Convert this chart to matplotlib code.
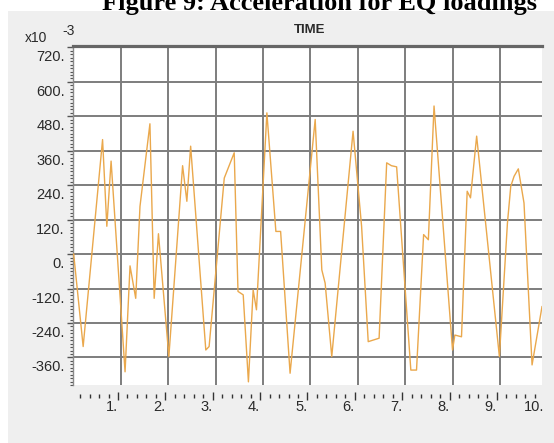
import matplotlib
matplotlib.use('Agg')
import matplotlib.pyplot as plt
from matplotlib.ticker import MultipleLocator
from matplotlib.patches import Rectangle
from matplotlib.transforms import ScaledTranslation

# ---- data ----
time = [0.00, 0.20, 0.61, 0.70, 0.79, 1.085, 1.19, 1.31, 1.40, 1.61, 1.70, 1.79,
        2.01, 2.30, 2.39, 2.47, 2.79, 2.86, 3.18, 3.39, 3.47, 3.58, 3.69, 3.79,
        3.86, 4.08, 4.27, 4.37, 4.57, 5.10, 5.24, 5.31, 5.45, 5.90, 6.08, 6.22,
        6.45, 6.61, 6.71, 6.82, 7.12, 7.24, 7.39, 7.49, 7.61, 8.00, 8.05, 8.19,
        8.31, 8.38, 8.51, 8.99, 9.16, 9.23, 9.30, 9.39, 9.51, 9.68, 9.89]
accel = [0, -322, 399, 97, 324, -410, -41, -154, 166, 454, -154, 71,
         -357, 308, 184, 376, -334, -322, 265, 353, -130, -142, -445, -125,
         -194, 492, 79, 79, -415, 469, -55, -101, -357, 428, 97, -305,
         -293, 318, 308, 304, -404, -404, 68, 50, 516, -334, -282, -288,
         219, 196, 411, -357, 108, 236, 271, 297, 178, -386, -183]

y_ticks = [720, 600, 480, 360, 240, 120, 0, -120, -240, -360]
y_labels = ['720.', '600.', '480.', '360.', '240.', '120.', '0.', '-120.', '-240.', '-360.']
x_grid = [1, 2, 3, 4, 5, 6, 7, 8, 9]
x_ticks = [1, 2, 3, 4, 5, 6, 7, 8, 9, 10]
x_labels = ['1.', '2.', '3.', '4.', '5.', '6.', '7.', '8.', '9.', '10.']

plt.rcParams['font.family'] = ['Liberation Sans', 'DejaVu Sans']

W, H = 554, 443
fig = plt.figure(figsize=(W / 100, H / 100), dpi=100, facecolor='white')


def fx(px):
    return px / W


def fy(py):
    return 1 - py / H


# gray panel behind the chart
fig.patches.append(Rectangle((fx(8), 0), 1 - fx(8), fy(11), transform=fig.transFigure,
                             facecolor='#efefef', edgecolor='none', zorder=-10))

# cut-off caption at the top (the reference shows it clipped by the image edge)
fig.text(fx(319), fy(10), 'Figure 9: Acceleration for EQ loadings', ha='center',
         va='baseline', fontsize=19, fontweight='bold', family='Liberation Serif',
         color='black')

ax = fig.add_axes([fx(72.5), fy(385), fx(542) - fx(72.5), fy(46) - fy(385)])
ax.set_facecolor('white')
ax.plot(time, accel, color='#eaa84c', lw=1.0, zorder=3)
ax.set_xlim(-0.025, 9.89)
ax.set_ylim(-456, 725)
ax.set_xticks(x_grid)
ax.set_yticks(y_ticks, y_labels)
ax.yaxis.set_minor_locator(MultipleLocator(12))
ax.grid(True, which='major', color='#7d7d7d', lw=1.4, zorder=1)
ax.set_axisbelow(True)
ax.tick_params(axis='x', which='both', length=0, labelbottom=False)
ax.tick_params(axis='y', which='major', direction='out', length=4, width=1,
               color='#555555', pad=1.5, labelsize=10.5, labelcolor='#2a2a2a')
ax.tick_params(axis='y', which='minor', direction='out', length=2.3, width=0.8,
               color='#555555')
ydown = ScaledTranslation(0, -3 / 100, fig.dpi_scale_trans)
for lab in ax.get_yticklabels():
    lab.set_va('top')
    lab.set_transform(lab.get_transform() + ydown)
for s in ['right', 'bottom']:
    ax.spines[s].set_visible(False)
ax.spines['top'].set_linewidth(2.3)
ax.spines['top'].set_color('#666666')
ax.spines['left'].set_linewidth(1.0)
ax.spines['left'].set_color('#8a8a8a')

# detached tick ruler below the plot
rax = fig.add_axes([fx(72.5), fy(396), fx(547) - fx(72.5), 0.0001])
rax.set_facecolor('none')
for s in rax.spines.values():
    s.set_visible(False)
rax.set_xlim(0.04, 10.056)
rax.set_yticks([])
rax.set_xticks(x_ticks, x_labels)
rax.xaxis.set_minor_locator(MultipleLocator(0.2))
rax.tick_params(axis='x', which='major', direction='inout', length=5.2, width=1,
                color='#333333', pad=0.5, labelsize=10.5, labelcolor='#2a2a2a')
rax.tick_params(axis='x', which='minor', direction='inout', length=2.6, width=1,
                color='#333333')
for lab in rax.get_xticklabels():
    lab.set_ha('right')
rax.xaxis.get_major_ticks()[-1].tick1line.set_visible(False)

# exponent and axis title
fig.text(fx(25), fy(38), 'x10', ha='left', va='center', fontsize=10, color='#2a2a2a')
fig.text(fx(62), fy(31), '-3', ha='left', va='center', fontsize=10, color='#2a2a2a')
fig.text(fx(310), fy(30), 'TIME', ha='center', va='center', fontsize=9.5,
         fontweight='bold', color='#2a2a2a')

fig.savefig('out.png', dpi=100, facecolor='white')
